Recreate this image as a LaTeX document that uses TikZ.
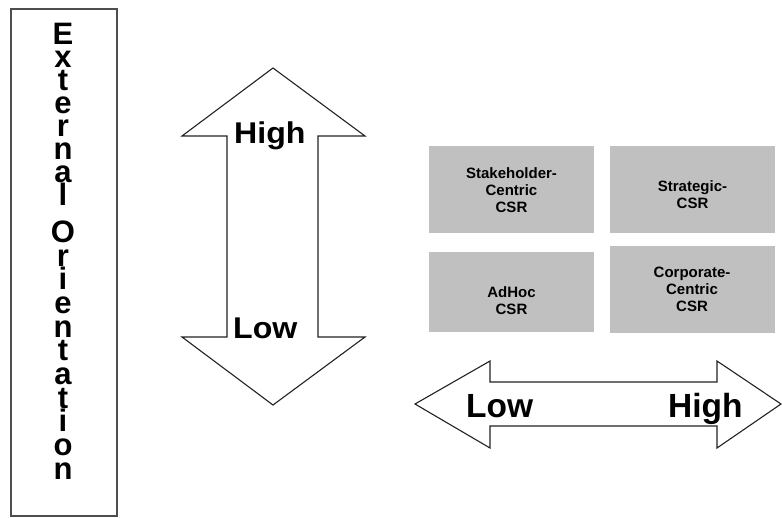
\documentclass[tikz,border=0pt]{standalone}
\usepackage{fontspec}
\setmainfont{Liberation Sans}
\newfontfamily\arrowfontV[FakeStretch=1.07]{Liberation Sans}
\definecolor{boxgray}{HTML}{C0C0C0}
\definecolor{edge}{HTML}{222222}
\newcommand{\sk}{\\[0.7pt]}
\begin{document}
\begin{tikzpicture}[x=1pt,y=-1pt,
  outline/.style={draw=edge,line width=1.1pt,fill=white,line join=miter},
  quad/.style={fill=boxgray,draw=none,minimum width=165pt,inner sep=0pt},
  quadtext/.style={font=\fontsize{15}{17}\selectfont\bfseries,align=center},
  stack/.style={anchor=north,inner sep=0pt,align=center,font=\fontsize{31}{23}\selectfont\bfseries},
  vlab/.style={anchor=base west,inner sep=0pt,font=\arrowfontV\fontsize{30}{30}\selectfont\bfseries},
  hlab/.style={anchor=base west,inner sep=0pt,font=\fontsize{33.5}{33.5}\selectfont\bfseries}]
\useasboundingbox (0,0) rectangle (782,517);
% left framed box
\node[draw=edge!80,line width=1.2pt,minimum width=106pt,minimum height=507pt,inner sep=0pt] (frame) at (64,262.5) {};
\node[stack] (title) at (63,22.8) {E\\x\\t\\e\\r\\n\\a\\l\\[14pt]O\sk r\sk i\sk e\sk n\sk t\sk a\sk t\sk i\sk o\sk n};
% vertical double arrow
\draw[outline] (273,68) coordinate (vtop) -- (365,136) -- (318,136) -- (318,337) -- (365,337)
  -- (273,405) coordinate (vbot) -- (182,337) -- (227,337) -- (227,136) -- (182,136) -- cycle;
\node[vlab] (vhigh) at (234,143) {High};
\node[vlab] (vlow) at (233,338) {Low};
% horizontal double arrow
\draw[outline] (415,404) coordinate (hleft) -- (490,361) -- (490,382) -- (717,382) -- (717,361)
  -- (781,404) coordinate (hright) -- (717,448) -- (717,426) -- (490,426) -- (490,448) -- cycle;
\node[hlab] (hlow) at (466,417) {Low};
\node[hlab] (hhigh) at (668,417) {High};
% quadrant boxes
\node[quad,minimum height=87pt,label={[quadtext,yshift=-0.5pt]center:Stakeholder-\\Centric\\CSR}] (stake) at (511.5,189.5) {};
\node[quad,minimum height=87pt,label={[quadtext,yshift=-5pt]center:Strategic-\\CSR}] (strat) at (692.5,189.5) {};
\node[quad,minimum height=80pt,label={[quadtext,yshift=-9pt]center:AdHoc\\CSR}] (adhoc) at (511.5,292) {};
\node[quad,minimum height=87pt,label={[quadtext]center:Corporate-\\Centric\\CSR}] (corp) at (692,289.5) {};
\end{tikzpicture}
\end{document}
